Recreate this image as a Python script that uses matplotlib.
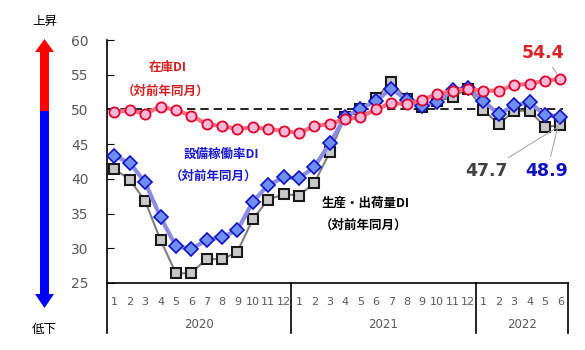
import numpy as np
import matplotlib
matplotlib.use('Agg')
import matplotlib.pyplot as plt
from matplotlib.patches import Polygon
import matplotlib.transforms as mtransforms

plt.rcParams['font.family'] = ['DejaVu Sans', 'Noto Sans CJK JP']
jp = ['Noto Sans CJK JP', 'DejaVu Sans']

# data
years = ['2020', '2021', '2022']
months_per_year = [12, 12, 6]
month_labels = [str(m) for m in range(1, 13)] * 2 + [str(m) for m in range(1, 7)]

zaiko = [49.6, 49.9, 49.4, 50.4, 49.9, 49.1, 47.9, 47.6, 47.2, 47.4, 47.2, 46.9,
         46.6, 47.6, 47.9, 48.6, 48.9, 50.0, 50.9, 50.8, 51.4, 52.2, 52.7, 52.9,
         52.7, 52.7, 53.5, 53.7, 54.1, 54.4]
setsubi = [43.3, 42.3, 39.5, 34.5, 30.3, 29.9, 31.2, 31.6, 32.6, 36.7, 39.1, 40.2,
           40.1, 41.7, 45.1, 48.9, 50.1, 51.2, 53.0, 51.4, 50.5, 51.1, 52.8, 53.1,
           51.2, 49.3, 50.6, 51.0, 49.2, 48.9]
seisan = [41.4, 39.9, 36.8, 31.2, 26.4, 26.4, 28.5, 28.4, 29.5, 34.2, 37.0, 37.8,
          37.6, 39.4, 43.8, 48.9, 50.0, 51.6, 54.0, 51.5, 50.4, 51.2, 51.8, 53.0,
          49.9, 47.9, 49.8, 49.8, 47.5, 47.7]

x = np.arange(len(month_labels))

fig = plt.figure(figsize=(5.85, 3.5), dpi=100)
ax = fig.add_axes([106.7 / 585, 67 / 350, (568 - 106.7) / 585, 243 / 350])

# 50 reference line
ax.plot([-0.5, 29.2], [50, 50], color='black', lw=1.2, ls=(0, (5, 3)), zorder=1)

ax.plot(x, seisan, color='#7f7f7f', lw=1.5, marker='s', ms=6.8,
        mfc='#c8c8c8', mec='#1a1a1a', mew=1.5, zorder=3)
ax.plot(x, setsubi, color='#8c8ce6', lw=3, marker='D', ms=6.8,
        mfc='#6f8ff0', mec='#1010cc', mew=1.2, zorder=4)
ax.plot(x, zaiko, color='#ff7080', lw=3, marker='o', ms=7.3,
        mfc='#ffb8d8', mec='#e0002a', mew=1.3, zorder=5)

ax.set_xlim(-0.5, len(x) - 0.5)
ax.set_ylim(25, 60)
ax.set_yticks(range(25, 61, 5))
ax.tick_params(axis='y', direction='in', length=5, pad=13, labelsize=10,
               labelcolor='#595959', color='black')
ax.set_xticks(x)
ax.set_xticklabels(month_labels, fontsize=8, color='#595959')
ax.tick_params(axis='x', length=0, pad=10)
for s in ['top', 'right', 'left']:
    ax.spines[s].set_visible(False)
ax.spines['bottom'].set_linewidth(1.2)

# left axis line and year table lines
trans = mtransforms.blended_transform_factory(ax.transData, ax.transAxes)
bounds = np.concatenate([[0], np.cumsum(months_per_year)]) - 0.5
for b in bounds:
    top = 1.0 if b == bounds[0] else 0.0
    ax.plot([b, b], [top, -0.206], color='black', lw=1.2, transform=trans, clip_on=False)
for i, yr in enumerate(years):
    ax.text((bounds[i] + bounds[i + 1]) / 2, -0.172, yr, transform=trans,
            ha='center', va='center', fontsize=8.5, color='#595959')

# series labels
fig.text(168 / 585, 1 - 68 / 350, '在庫DI', family=jp, fontsize=9, fontweight='bold',
         color='#d42020', ha='center', va='center')
fig.text(166 / 585, 1 - 91 / 350, '（対前年同月）', family=jp, fontsize=9, fontweight='bold',
         color='#d42020', ha='center', va='center')
fig.text(221 / 585, 1 - 154 / 350, '設備稼働率DI', family=jp, fontsize=9, fontweight='bold',
         color='#1a1ad0', ha='center', va='center')
fig.text(214 / 585, 1 - 176 / 350, '（対前年同月）', family=jp, fontsize=9, fontweight='bold',
         color='#1a1ad0', ha='center', va='center')
fig.text(366 / 585, 1 - 203 / 350, '生産・出荷量DI', family=jp, fontsize=9, fontweight='bold',
         color='black', ha='center', va='center')
fig.text(364 / 585, 1 - 225 / 350, '（対前年同月）', family=jp, fontsize=9, fontweight='bold',
         color='black', ha='center', va='center')

# end value annotations
last = len(x) - 1
lp = dict(arrowstyle='-', color='#a0a0a0', lw=0.7, shrinkA=2, shrinkB=4)
ax.annotate(f'{zaiko[-1]:.1f}', xy=(last, zaiko[-1]), xytext=(543, 350 - 53),
            textcoords='figure pixels', ha='center', va='center', fontsize=12.5,
            fontweight='bold', color='#e02028', arrowprops=lp, zorder=6)
ax.annotate(f'{seisan[-1]:.1f}', xy=(last, seisan[-1]), xytext=(487, 350 - 171),
            textcoords='figure pixels', ha='center', va='center', fontsize=12.5,
            fontweight='bold', color='#404040', arrowprops=lp, zorder=6)
ax.annotate(f'{setsubi[-1]:.1f}', xy=(last, setsubi[-1]), xytext=(547, 350 - 171),
            textcoords='figure pixels', ha='center', va='center', fontsize=12.5,
            fontweight='bold', color='#1010c0', arrowprops=lp, zorder=6)

# up/down arrow on the left
ov = fig.add_axes([0, 0, 1, 1], zorder=-1)
ov.set_xlim(0, 585)
ov.set_ylim(350, 0)
ov.axis('off')
cx = 44.5
ov.add_patch(Polygon([[cx, 39], [cx + 9.5, 52], [cx + 4.5, 52], [cx + 4.5, 111],
                      [cx - 4.5, 111], [cx - 4.5, 52], [cx - 9.5, 52]],
                     closed=True, color='#ff0000', lw=0))
ov.add_patch(Polygon([[cx - 4.5, 111], [cx + 4.5, 111], [cx + 4.5, 294], [cx + 9.5, 294],
                      [cx, 308], [cx - 9.5, 294], [cx - 4.5, 294]],
                     closed=True, color='#0000ff', lw=0))
fig.text(cx / 585, 1 - 21 / 350, '上昇', family=jp, fontsize=9, ha='center', va='center')
fig.text(cx / 585, 1 - 330 / 350, '低下', family=jp, fontsize=9, ha='center', va='center')

fig.savefig('out.png', dpi=100)
